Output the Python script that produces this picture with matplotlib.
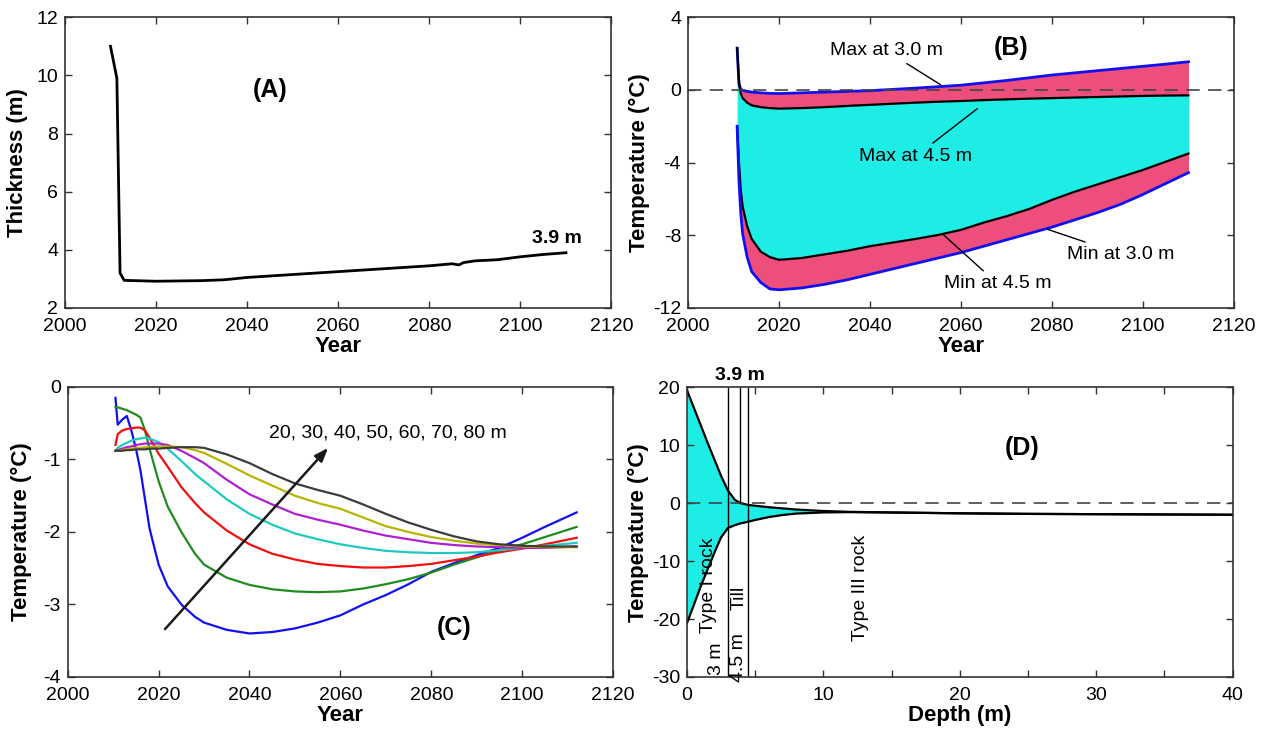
import matplotlib
matplotlib.use("Agg")
import matplotlib.pyplot as plt

plt.rcParams['font.family'] = ['Liberation Sans', 'DejaVu Sans']
plt.rcParams['axes.unicode_minus'] = False

# ---------------- Panel A data ----------------
years_a = [2010, 2011.4, 2012.1, 2013, 2020, 2030, 2035, 2040, 2050, 2060, 2070,
           2080, 2085, 2086.5, 2087.5, 2090, 2095, 2100, 2105, 2110]
thick_a = [11.0, 9.9, 3.2, 2.95, 2.92, 2.94, 2.97, 3.05, 3.15, 3.25, 3.35,
           3.45, 3.52, 3.48, 3.56, 3.62, 3.66, 3.76, 3.84, 3.9]

# ---------------- Panel B data ----------------
years_b = [2010.8, 2011.2, 2011.6, 2012, 2013, 2014, 2016, 2018, 2020, 2025, 2030,
           2035, 2040, 2045, 2050, 2055, 2060, 2065, 2070, 2075, 2080, 2085,
           2090, 2095, 2100, 2105, 2110]
max_30 = [2.3, 0.3, 0.05, -0.02, -0.08, -0.12, -0.16, -0.19, -0.2, -0.16, -0.12,
          -0.08, -0.04, 0.03, 0.1, 0.18, 0.26, 0.39, 0.52, 0.67, 0.82, 0.94,
          1.06, 1.18, 1.3, 1.42, 1.55]
max_45 = [2.3, 0.5, -0.2, -0.45, -0.7, -0.85, -0.95, -1.0, -1.03, -1.0, -0.95,
          -0.88, -0.82, -0.76, -0.7, -0.65, -0.61, -0.56, -0.52, -0.48, -0.45, -0.42,
          -0.39, -0.36, -0.33, -0.31, -0.3]
min_45 = [-2.0, -4.0, -5.5, -6.4, -7.5, -8.2, -8.9, -9.2, -9.35, -9.25, -9.05,
          -8.85, -8.6, -8.4, -8.2, -7.98, -7.7, -7.3, -6.95, -6.55, -6.05, -5.6,
          -5.2, -4.8, -4.4, -3.95, -3.5]
min_30 = [-2.0, -5.0, -6.8, -7.9, -9.2, -10.0, -10.6, -10.95, -11.0, -10.9, -10.7,
          -10.45, -10.15, -9.85, -9.55, -9.25, -8.95, -8.6, -8.25, -7.9, -7.55, -7.15,
          -6.75, -6.3, -5.75, -5.15, -4.55]

# ---------------- Panel C data ----------------
years_c = [2010.5, 2011, 2012, 2013, 2014, 2015, 2016, 2017, 2018, 2020, 2022, 2025,
           2028, 2030, 2035, 2040, 2045, 2050, 2055, 2060, 2065, 2070, 2075, 2080,
           2085, 2090, 2095, 2100, 2105, 2112]
t_20m = [-0.15, -0.52, -0.45, -0.4, -0.6, -0.85, -1.15, -1.55, -1.95, -2.45, -2.75, -3.0,
         -3.17, -3.25, -3.35, -3.4, -3.38, -3.33, -3.25, -3.15, -3.0, -2.87, -2.72, -2.55,
         -2.43, -2.32, -2.22, -2.08, -1.93, -1.73]
t_30m = [-0.28, -0.28, -0.3, -0.32, -0.35, -0.38, -0.42, -0.6, -0.85, -1.3, -1.65, -2.0,
         -2.3, -2.45, -2.63, -2.73, -2.79, -2.82, -2.83, -2.82, -2.78, -2.72, -2.65, -2.56,
         -2.45, -2.35, -2.25, -2.17, -2.07, -1.93]
t_40m = [-0.8, -0.65, -0.6, -0.58, -0.57, -0.56, -0.56, -0.6, -0.7, -0.92, -1.1, -1.38,
         -1.6, -1.73, -1.98, -2.17, -2.3, -2.38, -2.44, -2.47, -2.49, -2.49, -2.47, -2.44,
         -2.39, -2.34, -2.28, -2.23, -2.17, -2.08]
t_50m = [-0.88, -0.84, -0.8, -0.77, -0.74, -0.72, -0.71, -0.7, -0.71, -0.76, -0.85, -1.02,
         -1.2, -1.3, -1.55, -1.75, -1.9, -2.02, -2.1, -2.17, -2.22, -2.26, -2.28, -2.29,
         -2.29, -2.28, -2.25, -2.22, -2.19, -2.15]
t_60m = [-0.88, -0.87, -0.85, -0.83, -0.82, -0.8, -0.79, -0.78, -0.78, -0.78, -0.8, -0.88,
         -0.98, -1.05, -1.28, -1.48, -1.62, -1.75, -1.83, -1.9, -1.98, -2.05, -2.1, -2.15,
         -2.18, -2.2, -2.21, -2.22, -2.22, -2.2]
t_70m = [-0.88, -0.88, -0.87, -0.86, -0.85, -0.84, -0.84, -0.83, -0.83, -0.82, -0.82, -0.83,
         -0.87, -0.91, -1.06, -1.22, -1.36, -1.5, -1.6, -1.68, -1.8, -1.92, -2.0, -2.07,
         -2.12, -2.16, -2.18, -2.2, -2.21, -2.21]
t_80m = [-0.88, -0.88, -0.88, -0.87, -0.87, -0.86, -0.86, -0.86, -0.85, -0.85, -0.84, -0.83,
         -0.83, -0.84, -0.93, -1.05, -1.2, -1.33, -1.42, -1.5, -1.62, -1.75, -1.87, -1.97,
         -2.06, -2.13, -2.17, -2.19, -2.2, -2.2]
c_series = [t_20m, t_30m, t_40m, t_50m, t_60m, t_70m, t_80m]
c_colors = ['#1010F0', '#208A20', '#F01010', '#20C8C0', '#B020D0', '#B8B400', '#3C3C3C']

# ---------------- Panel D data ----------------
depth_d = [0, 0.5, 1, 1.5, 2, 2.5, 3, 3.5, 3.9, 4.5, 5, 6, 7, 8, 10, 12, 15,
           20, 25, 30, 35, 40]
upper_d = [19.5, 16.5, 13.5, 10.5, 7.6, 4.7, 2.2, 0.6, 0.0, -0.3, -0.45, -0.7,
           -0.9, -1.1, -1.35, -1.5, -1.6, -1.75, -1.85, -1.9, -1.95, -2.0]
lower_d = [-20.7, -17.6, -14.4, -11.5, -8.6, -5.9, -4.3, -3.8, -3.5, -3.2, -2.9, -2.4,
           -2.05, -1.8, -1.6, -1.55, -1.62, -1.75, -1.85, -1.9, -1.95, -2.0]
layer_depths = [3.0, 3.9, 4.5]

PINK = '#EE4E7C'
CYAN = '#1EEDE6'
SPINE = '#333333'
TICK_FS = 14
LAB_FS = 16
PAN_FS = 18
ANN_FS = 14

fig = plt.figure(figsize=(12.71, 7.31), dpi=100)
fig.patch.set_facecolor('white')


def style(ax):
    for s in ax.spines.values():
        s.set_color(SPINE)
        s.set_linewidth(1.2)
    ax.tick_params(direction='in', top=True, right=True, length=5, width=1,
                   labelsize=TICK_FS, pad=5, color=SPINE, which='both')
    ax.tick_params(axis='x', which='both', pad=7)


# ---------------- Panel A ----------------
axA = fig.add_axes([0.0511, 0.5787, 0.4300, 0.3977])
axA.plot(years_a, thick_a, color='black', lw=2)
axA.set_xlim(2000, 2120)
axA.set_ylim(2, 12)
axA.set_xticks(range(2000, 2121, 20))
axA.set_yticks(range(2, 13, 2))
style(axA)
axA.set_xlabel('Year', fontsize=LAB_FS, fontweight='bold', labelpad=1)
axA.set_ylabel('Thickness (m)', fontsize=LAB_FS, fontweight='bold', labelpad=6)
axA.text(2045, 9.5, '(A)', fontsize=PAN_FS, fontweight='bold', ha='center', va='center')
axA.text(2108, 4.4, '3.9 m', fontsize=14, fontweight='bold', ha='center', va='center')

# ---------------- Panel B ----------------
axB = fig.add_axes([0.5413, 0.5787, 0.4296, 0.3977])
axB.fill_between(years_b, max_45, max_30, color=PINK, lw=0)
axB.fill_between(years_b, min_45, max_45, color=CYAN, lw=0)
axB.fill_between(years_b, min_30, min_45, color=PINK, lw=0)
axB.plot(years_b, max_30, color='#1010F0', lw=2)
axB.plot(years_b, max_45, color='black', lw=1.6)
axB.plot(years_b, min_45, color='black', lw=1.6)
axB.plot(years_b, min_30, color='#1010F0', lw=2)
axB.axhline(0, color='#444444', lw=1.2, ls=(0, (8, 5)))
axB.set_xlim(2000, 2120)
axB.set_ylim(-12, 4)
axB.set_xticks(range(2000, 2121, 20))
axB.set_yticks([-12, -8, -4, 0, 4])
style(axB)
axB.set_xlabel('Year', fontsize=LAB_FS, fontweight='bold', labelpad=1)
axB.set_ylabel('Temperature (°C)', fontsize=LAB_FS, fontweight='bold', labelpad=2)
axB.text(2071, 2.3, '(B)', fontsize=PAN_FS, fontweight='bold', ha='center', va='center')
lp = dict(arrowstyle='-', color='black', lw=1, shrinkA=2, shrinkB=0)
axB.annotate('Max at 3.0 m', xy=(2055.5, 0.29), xytext=(2043.6, 2.15),
             fontsize=ANN_FS, ha='center', va='center', arrowprops=lp)
axB.annotate('Max at 4.5 m', xy=(2063.6, -1.03), xytext=(2050.1, -3.64),
             fontsize=ANN_FS, ha='center', va='center', arrowprops=lp)
axB.annotate('Min at 3.0 m', xy=(2079.0, -7.67), xytext=(2095.2, -9.04),
             fontsize=ANN_FS, ha='center', va='center', arrowprops=lp)
axB.annotate('Min at 4.5 m', xy=(2056.0, -7.94), xytext=(2068.1, -10.68),
             fontsize=ANN_FS, ha='center', va='center', arrowprops=lp)

# ---------------- Panel C ----------------
axC = fig.add_axes([0.0533, 0.0739, 0.4290, 0.3967])
for vals, col in zip(c_series, c_colors):
    axC.plot(years_c, vals, color=col, lw=1.6)
axC.set_xlim(2000, 2120)
axC.set_ylim(-4, 0)
axC.set_xticks(range(2000, 2121, 20))
axC.set_yticks([-4, -3, -2, -1, 0])
style(axC)
axC.set_xlabel('Year', fontsize=LAB_FS, fontweight='bold', labelpad=1)
axC.set_ylabel('Temperature (°C)', fontsize=LAB_FS, fontweight='bold', labelpad=8)
axC.annotate('', xy=(2057.3, -0.84), xytext=(2021.4, -3.34),
             arrowprops=dict(arrowstyle='-|>,head_length=0.8,head_width=0.3',
                             color='#1a1a1a', lw=1.8, shrinkA=0, shrinkB=0))
axC.text(2044.2, -0.63, '20, 30, 40, 50, 60, 70, 80 m', fontsize=ANN_FS,
         ha='left', va='center')
axC.text(2085, -3.33, '(C)', fontsize=PAN_FS, fontweight='bold', ha='center', va='center')

# ---------------- Panel D ----------------
axD = fig.add_axes([0.5405, 0.0739, 0.4293, 0.3963])
axD.fill_between(depth_d, lower_d, upper_d, color=CYAN, lw=0)
axD.plot(depth_d, upper_d, color='black', lw=1.6)
axD.plot(depth_d, lower_d, color='black', lw=1.6)
axD.axhline(0, color='#444444', lw=1.2, ls=(0, (8, 5)))
axD.vlines([layer_depths[0], layer_depths[2]], -30, 20, color='black', lw=1)
axD.vlines([layer_depths[1]], 0, 20, color='black', lw=1)
axD.set_xlim(0, 40)
axD.set_ylim(-30, 20)
axD.set_xticks([0, 10, 20, 30, 40])
axD.set_xticks([5, 15, 25, 35], minor=True)
axD.set_yticks([-30, -20, -10, 0, 10, 20])
style(axD)
axD.tick_params(which='minor', length=5)
axD.set_xlabel('Depth (m)', fontsize=LAB_FS, fontweight='bold', labelpad=1)
axD.set_ylabel('Temperature (°C)', fontsize=LAB_FS, fontweight='bold', labelpad=2)
axD.text(24.6, 9.5, '(D)', fontsize=PAN_FS, fontweight='bold', ha='center', va='center')
axD.text(3.9, 20.6, '3.9 m', fontsize=14, fontweight='bold', ha='center', va='bottom')
axD.text(2.2, -26.9, '3 m', fontsize=ANN_FS, rotation=90, ha='center', va='center')
axD.text(1.6, -14.2, 'Type I rock', fontsize=ANN_FS, rotation=90, ha='center', va='center')
axD.text(3.8, -26.7, '4.5 m', fontsize=ANN_FS, rotation=90, ha='center', va='center')
axD.text(3.8, -16.4, 'Till', fontsize=ANN_FS, rotation=90, ha='center', va='center')
axD.text(12.7, -14.6, 'Type III rock', fontsize=ANN_FS, rotation=90, ha='center', va='center')

fig.savefig('out.png', dpi=100, facecolor='white')
